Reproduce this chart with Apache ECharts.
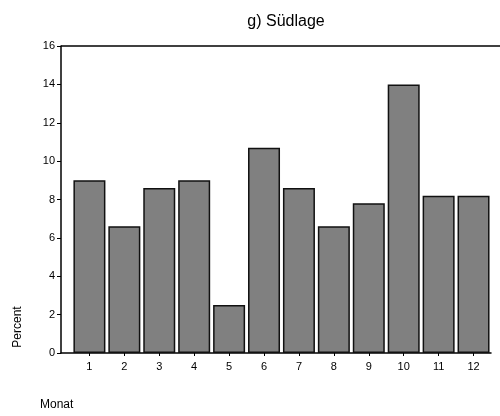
<!DOCTYPE html>
<html>
<head>
<meta charset="utf-8">
<script src="https://cdn.jsdelivr.net/npm/echarts@6/dist/echarts.min.js"></script>
<style>
  html, body { margin: 0; padding: 0; background: #fff; }
  #chart { width: 500px; height: 416px; }
</style>
</head>
<body>
<div id="chart"></div>
<script>
let myChart = echarts.init(document.getElementById("chart"));

// months and percent per month
const months = [1, 2, 3, 4, 5, 6, 7, 8, 9, 10, 11, 12];
const percent = [9.0, 6.6, 8.6, 9.0, 2.5, 10.7, 8.6, 6.6, 7.8, 14.0, 8.2, 8.2];
const yTicks = [0, 2, 4, 6, 8, 10, 12, 14, 16];

const font = "Liberation Sans, Arial, sans-serif";

// bars are placed on a value axis so the axis can start left of the first bar
let barData = months.map((m, i) => [m, percent[i]]);

myChart.setOption({
  animation: false,
  title: {
    text: "g) Südlage",
    left: 281,
    top: 9,
    textAlign: "center",
    textStyle: { fontFamily: font, fontSize: 16, fontWeight: "normal", color: "#000" },
  },
  grid: { left: 61, right: 9, top: 46, bottom: 63 },
  xAxis: {
    type: "value",
    min: 0.186,
    max: 12.5,
    splitLine: { show: false },
    axisLine: { show: true, lineStyle: { color: "#000", width: 1.5 } },
    axisTick: { show: true, length: 3, customValues: months, lineStyle: { color: "#000" } },
    axisLabel: {
      customValues: months,
      fontFamily: font,
      fontSize: 11,
      color: "#000",
      margin: 8,
    },
  },
  yAxis: {
    type: "value",
    min: 0,
    max: 16,
    interval: 2,
    splitLine: { show: false },
    axisLine: { show: true, lineStyle: { color: "#000", width: 1.5 } },
    axisTick: { show: true, length: 4, lineStyle: { color: "#000" } },
    axisLabel: {
      customValues: yTicks,
      fontFamily: font,
      fontSize: 11,
      color: "#000",
      margin: 6,
    },
  },
  graphic: [
    // top frame line
    {
      type: "line",
      shape: { x1: 61, y1: 46, x2: 500, y2: 46 },
      style: { stroke: "#000", lineWidth: 1.5 },
    },
    {
      type: "text",
      x: 18,
      y: 327,
      rotation: Math.PI / 2,
      style: {
        text: "Percent",
        font: "12px " + font,
        fill: "#000",
        align: "center",
        verticalAlign: "middle",
      },
    },
    {
      type: "text",
      x: 40,
      y: 405,
      style: {
        text: "Monat",
        font: "12px " + font,
        fill: "#000",
        verticalAlign: "middle",
      },
    },
  ],
  series: [
    {
      name: "Percent",
      type: "bar",
      data: barData,
      barWidth: 32,
      itemStyle: { color: "#808080", borderColor: "#111", borderWidth: 1.5 },
    },
  ],
});
</script>
</body>
</html>
